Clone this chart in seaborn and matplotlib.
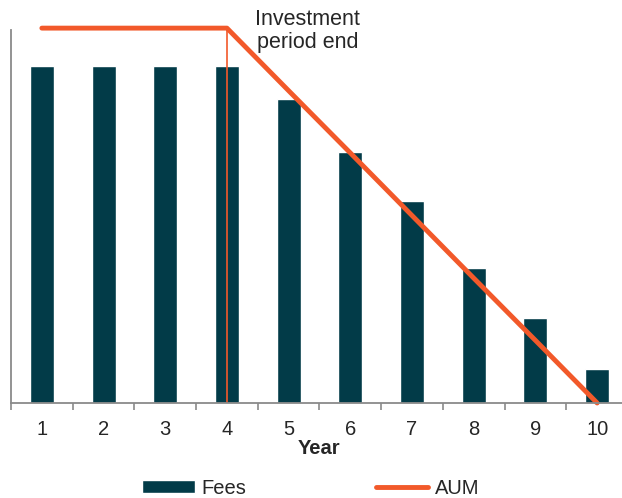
import numpy as np
import pandas as pd
import seaborn as sns
import matplotlib.pyplot as plt

# values
years = [1, 2, 3, 4, 5, 6, 7, 8, 9, 10]
fees = [90, 90, 90, 90, 81, 67, 54, 36, 22.7, 9]
aum = [100, 100, 100, 100, 83.3, 66.7, 50, 33.3, 16.7, 0]
invest_end = 4
note_text = 'Investment\nperiod end'

BAR_COLOR = '#023b48'
LINE_COLOR = '#f2592a'
SPINE_COLOR = '#8a8a8a'

df = pd.DataFrame({'Year': years, 'Fees': fees, 'AUM': aum})

sns.set_style('white')
plt.rcParams['font.family'] = ['Liberation Sans', 'DejaVu Sans']

fig = plt.figure(figsize=(6.22, 4.98), dpi=100)
ax = fig.add_axes([11 / 622, 95 / 498, 617 / 622, 373 / 498])

sns.barplot(data=df, x='Year', y='Fees', native_scale=True, width=0.39,
            color=BAR_COLOR, saturation=1, label='Fees', ax=ax)
sns.lineplot(data=df, x='Year', y='AUM', color=LINE_COLOR, lw=3.5,
             label='AUM', ax=ax, clip_on=False, solid_capstyle='round')
ax.vlines(invest_end, 0, max(aum), color=LINE_COLOR, lw=1.2)

ax.set_xlim(years[0] - 0.5, years[-1] + 0.5)
ax.set_ylim(0, 99.5)

# labels at the centres, tick marks at the category boundaries
ax.set_xticks(years)
ax.set_xticklabels([str(y) for y in years], fontsize=14.5)
ax.set_xticks(np.arange(years[0] - 0.5, years[-1] + 0.5, 1), minor=True)
ax.tick_params(axis='x', which='major', length=0, pad=12)
ax.tick_params(axis='x', which='minor', length=5, width=1.2, color=SPINE_COLOR,
               direction='out', bottom=True)
ax.set_yticks([])
ax.set_xlabel('Year', fontsize=14.5, fontweight='bold', labelpad=0)
ax.set_ylabel('')

for side in ['top', 'right']:
    ax.spines[side].set_visible(False)
for side in ['left', 'bottom']:
    ax.spines[side].set_color(SPINE_COLOR)
    ax.spines[side].set_linewidth(1.3)

ax.text(invest_end + 1.31, 99.2, note_text, ha='center', va='center',
        fontsize=15.5, linespacing=1.1, clip_on=False)

ax.get_legend().remove()
handles, labels = ax.get_legend_handles_labels()
order = [labels.index('Fees'), labels.index('AUM')]
fig.legend([handles[i] for i in order], [labels[i] for i in order],
           loc='center', bbox_to_anchor=(0.5, 10 / 498),
           ncol=2, frameon=False, fontsize=14.5, handlelength=2.6,
           handleheight=0.6, handletextpad=0.35, columnspacing=6.4,
           borderaxespad=0)

fig.savefig('out.png', dpi=100)
